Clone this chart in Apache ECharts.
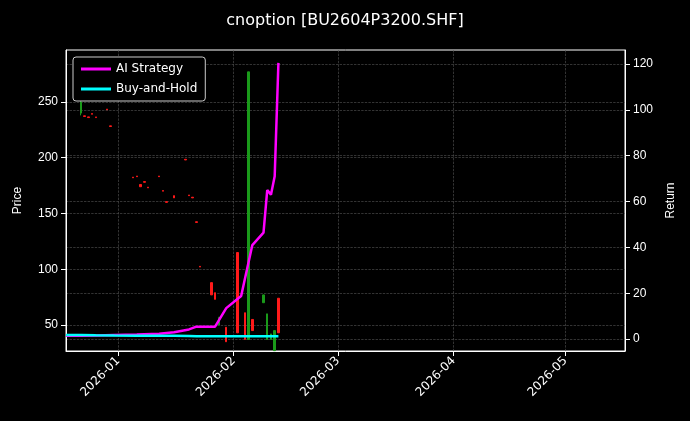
<!DOCTYPE html>
<html><head><meta charset="utf-8">
<script src="https://cdn.jsdelivr.net/npm/echarts@6/dist/echarts.min.js"></script>
<style>html,body{margin:0;background:#000}#c{width:690px;height:421px}</style>
</head><body><div id="c"></div>
<script>
// candles: [date, open, close, low, high]
const candleDates = ['2025-12-22','2025-12-23','2025-12-24','2025-12-25','2025-12-26','2025-12-29','2025-12-30',
 '2026-01-05','2026-01-06','2026-01-07','2026-01-08','2026-01-09','2026-01-12','2026-01-13','2026-01-14','2026-01-16',
 '2026-01-19','2026-01-20','2026-01-21','2026-01-22','2026-01-23','2026-01-26','2026-01-27','2026-01-28',
 '2026-01-30','2026-02-02','2026-02-04','2026-02-05','2026-02-06','2026-02-09','2026-02-10','2026-02-11','2026-02-12','2026-02-13'];
const opens  = [250,237,236,239,236,243,228,182,183,174,178,173,183,170,160,164,198,166,164,142,102,77,73,57,35,43,37,277,45,77,60,42,45,43];
const closes = [240,237.6,236.6,239.6,236.6,243.6,228.6,182.6,183.6,176,178.6,173.6,183.6,170.6,160.6,166,198.6,166.6,164.6,142.6,102.6,88,79,50,48,115,61,37,55,70,37,37,27,74];
const lows   = [238,237,236,239,236,243,228,182,183,174,178,173,183,170,160,164,198,166,164,142,102,77,73,50,35,43,37,37,45,70,37,37,27,43];
const highs  = [262,237.6,236.6,239.6,236.6,243.6,228.6,182.6,183.6,176,178.6,173.6,183.6,170.6,160.6,166,198.6,166.6,164.6,142.6,102.6,88,79,57,48,115,61,277,55,77,60,42,45,74];
// returns
const retDates = ['2025-12-18','2025-12-22','2025-12-26','2025-12-31','2026-01-06','2026-01-12','2026-01-16','2026-01-20','2026-01-22','2026-01-27','2026-01-30','2026-02-03','2026-02-06','2026-02-09','2026-02-10','2026-02-11','2026-02-12','2026-02-13'];
const aiRet  = [1.5,1.5,1.6,1.8,2.0,2.3,3.0,4.2,5.4,5.4,13.5,18.8,41,46.4,65,63,71,120.5];
const bhRet  = [1.8,1.8,1.7,1.6,1.5,1.4,1.5,1.3,1.2,1.2,1.2,1.2,1.2,1.2,1.2,1.2,1.2,1.2];

const candleData = candleDates.map((d,i)=>[d,opens[i],closes[i],lows[i],highs[i]]);
const grid = {lineStyle:{color:'#555',type:'dashed',width:0.6}};
const chart = echarts.init(document.getElementById('c'));
chart.setOption({
 backgroundColor:'#000', animation:false,
 title:{text:'cnoption [BU2604P3200.SHF]',left:'center',top:8,textStyle:{color:'#fff',fontSize:16,fontWeight:'normal',fontFamily:'DejaVu Sans'}},
 legend:{left:73,top:57,orient:'vertical',itemWidth:30,itemHeight:3,itemGap:8,padding:[6,8],borderColor:'#ccc',borderWidth:1,borderRadius:3,backgroundColor:'#000',
   textStyle:{color:'#fff',fontSize:12,fontFamily:'DejaVu Sans'},data:[{name:'AI Strategy',icon:'rect'},{name:'Buy-and-Hold',icon:'rect'}]},
 grid:{left:66,right:65,top:50,bottom:70,outerBoundsMode:'none',containLabel:false,show:true,borderColor:'#fff',borderWidth:1},
 xAxis:{type:'time',min:'2025-12-18',max:'2026-05-17',splitNumber:5,
   axisLine:{onZero:false,lineStyle:{color:'#fff'}},axisTick:{lineStyle:{color:'#fff'}},
   axisLabel:{color:'#fff',rotate:45,fontSize:12,fontFamily:'DejaVu Sans',formatter:v=>{const d=new Date(v);if(d.getDate()!==1)return '';return d.getFullYear()+'-'+String(d.getMonth()+1).padStart(2,'0');}},
   splitLine:{show:true,...grid}},
 yAxis:[
  {type:'value',min:26.7,max:296.6,name:'Price',nameLocation:'middle',nameGap:42,nameTextStyle:{color:'#fff',fontSize:12},
   axisLine:{show:true,lineStyle:{color:'#fff'}},axisTick:{show:true,customValues:[50,100,150,200,250]},
   axisLabel:{color:'#fff',fontSize:12,customValues:[50,100,150,200,250]},splitLine:{show:true,...grid}},
  {type:'value',min:-5.2,max:126.1,name:'Return',nameLocation:'middle',nameGap:40,nameRotate:90,nameTextStyle:{color:'#fff',fontSize:12},
   axisLine:{show:true,lineStyle:{color:'#fff'}},axisTick:{show:true,customValues:[0,20,40,60,80,100,120]},
   axisLabel:{color:'#fff',fontSize:12,customValues:[0,20,40,60,80,100,120]},splitLine:{show:true,...grid}}
 ],
 series:[
  {type:'candlestick',data:candleData,encode:{x:0,y:[1,2,3,4]},barWidth:2,
   itemStyle:{color:'#ff1a1a',color0:'#1a9a1a',borderColor:'#ff1a1a',borderColor0:'#1a9a1a',borderWidth:1}},
  {name:'AI Strategy',type:'line',yAxisIndex:1,showSymbol:false,data:retDates.map((d,i)=>[d,aiRet[i]]),lineStyle:{color:'#ff00ff',width:2.5},itemStyle:{color:'#ff00ff'}},
  {name:'Buy-and-Hold',type:'line',yAxisIndex:1,showSymbol:false,data:retDates.map((d,i)=>[d,bhRet[i]]),lineStyle:{color:'#00ffff',width:2.5},itemStyle:{color:'#00ffff'}}
 ]
});
</script></body></html>
